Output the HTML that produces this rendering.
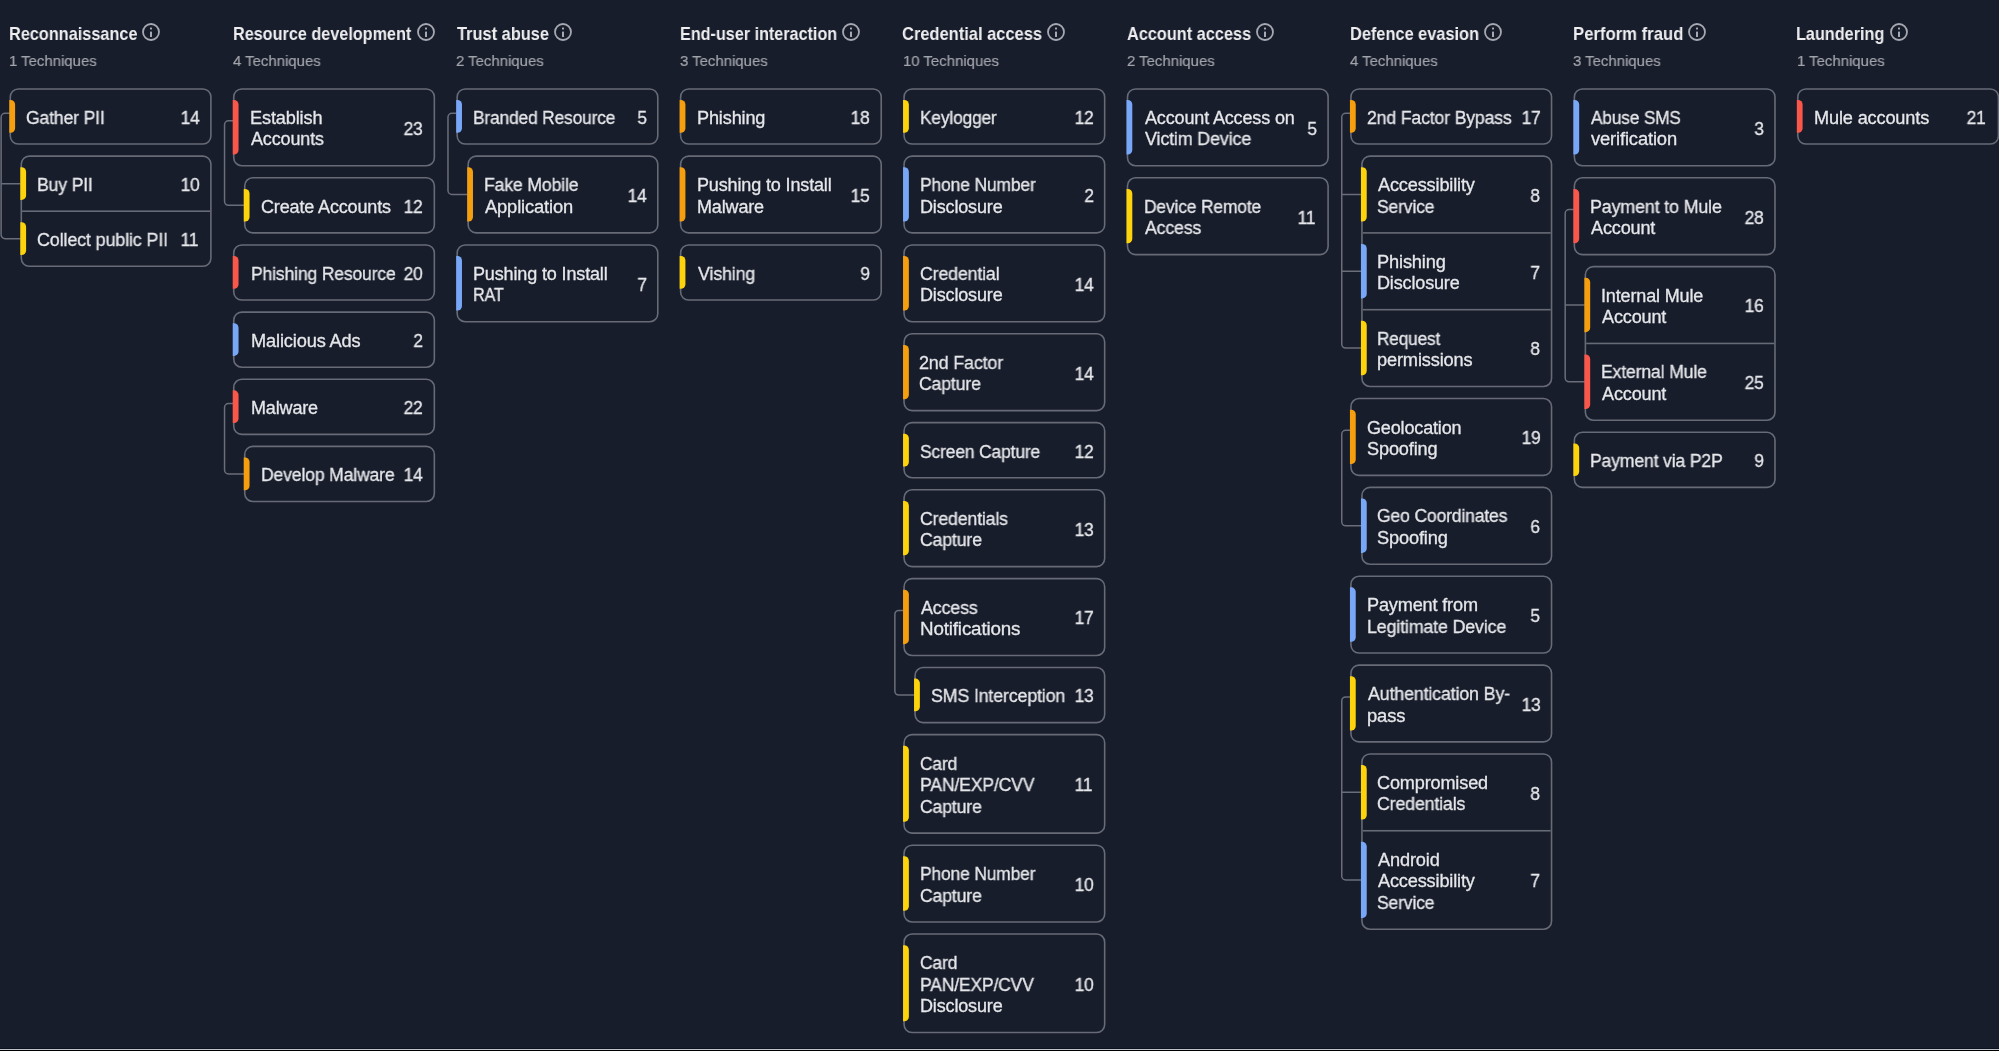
<!DOCTYPE html><html><head><meta charset="utf-8"><style>
html,body{margin:0;padding:0;}body{width:1999px;height:1051px;background:#181d2b;overflow:hidden;position:relative;font-family:"Liberation Sans",sans-serif;}
svg.m{position:absolute;left:0;top:0;}
.t,.n{position:absolute;font-size:18px;color:#e6e7ea;white-space:nowrap;font-variant-ligatures:none;letter-spacing:-0.15px;transform:scaleX(0.97);-webkit-text-stroke:0.3px #e6e7ea;}
.t{transform-origin:0 0;}.n{transform-origin:100% 0;}.t,.n,.h,.s{will-change:transform;}
.t,.n,.h,.s{line-height:1;}
.h{position:absolute;font-weight:bold;font-size:18.2px;color:#eeeef0;white-space:nowrap;transform:scaleX(0.91);transform-origin:0 0;}
svg.i{position:absolute;}
.s{position:absolute;font-size:15.4px;color:#a2a4ab;white-space:nowrap;transform:scaleX(0.97);transform-origin:0 0;-webkit-text-stroke:0.2px #a2a4ab;}
.bl{position:absolute;left:0;width:1999px;}
</style></head><body>
<svg class="m" width="1999" height="1051" viewBox="0 0 1999 1051">
<path d="M10.3,113.25 H5.1 A4,4 0 0 0 1.1,117.25 V234.75 A4,4 0 0 0 5.1,238.75 H21.3 M1.1,183.65 H21.3" fill="none" stroke="#6a6e7a" stroke-width="1.5"/>
<path d="M233.74,120.75 H228.54 A4,4 0 0 0 224.54,124.75 V201.35 A4,4 0 0 0 228.54,205.35 H244.74" fill="none" stroke="#6a6e7a" stroke-width="1.5"/>
<path d="M233.74,403.55 H228.54 A4,4 0 0 0 224.54,407.55 V469.95 A4,4 0 0 0 228.54,473.95 H244.74" fill="none" stroke="#6a6e7a" stroke-width="1.5"/>
<path d="M457.18,113.25 H451.98 A4,4 0 0 0 447.98,117.25 V190.5 A4,4 0 0 0 451.98,194.5 H468.18" fill="none" stroke="#6a6e7a" stroke-width="1.5"/>
<path d="M904.06,610.45 H898.86 A4,4 0 0 0 894.86,614.45 V691.05 A4,4 0 0 0 898.86,695.05 H915.06" fill="none" stroke="#6a6e7a" stroke-width="1.5"/>
<path d="M1350.94,113.25 H1345.74 A4,4 0 0 0 1341.74,117.25 V344.1 A4,4 0 0 0 1345.74,348.1 H1361.94 M1341.74,194.5 H1361.94 M1341.74,271.3 H1361.94" fill="none" stroke="#6a6e7a" stroke-width="1.5"/>
<path d="M1350.94,430.35 H1345.74 A4,4 0 0 0 1341.74,434.35 V521.8 A4,4 0 0 0 1345.74,525.8 H1361.94" fill="none" stroke="#6a6e7a" stroke-width="1.5"/>
<path d="M1350.94,696.9 H1345.74 A4,4 0 0 0 1341.74,700.9 V876 A4,4 0 0 0 1345.74,880 H1361.94 M1341.74,792.35 H1361.94" fill="none" stroke="#6a6e7a" stroke-width="1.5"/>
<path d="M1574.38,209.6 H1569.18 A4,4 0 0 0 1565.18,213.6 V377.85 A4,4 0 0 0 1569.18,381.85 H1585.38 M1565.18,305.05 H1585.38" fill="none" stroke="#6a6e7a" stroke-width="1.5"/>
<rect x="10.3" y="88.95" width="200.6" height="55.1" rx="8" fill="#181d2b" stroke="#676b77" stroke-width="1.6"/>
<path d="M9.3,100.05 H10.6 A4.5,4.5 0 0 1 15.1,104.55 V128.25 A4.5,4.5 0 0 1 10.6,132.75 H9.3 Z" fill="#f59f0f"/>
<rect x="21.3" y="156.1" width="189.6" height="110.2" rx="8" fill="#181d2b" stroke="#676b77" stroke-width="1.6"/>
<path d="M20.3,167.2 H21.6 A4.5,4.5 0 0 1 26.1,171.7 V195.4 A4.5,4.5 0 0 1 21.6,199.9 H20.3 Z" fill="#fdd40c"/>
<rect x="22.1" y="210.4" width="188" height="1.6" fill="#676b77"/>
<path d="M20.3,222.3 H21.6 A4.5,4.5 0 0 1 26.1,226.8 V250.5 A4.5,4.5 0 0 1 21.6,255 H20.3 Z" fill="#fdd40c"/>
<rect x="233.74" y="88.95" width="200.6" height="76.8" rx="8" fill="#181d2b" stroke="#676b77" stroke-width="1.6"/>
<path d="M232.74,100.05 H234.04 A4.5,4.5 0 0 1 238.54,104.55 V149.95 A4.5,4.5 0 0 1 234.04,154.45 H232.74 Z" fill="#f9574a"/>
<rect x="244.74" y="177.8" width="189.6" height="55.1" rx="8" fill="#181d2b" stroke="#676b77" stroke-width="1.6"/>
<path d="M243.74,188.9 H245.04 A4.5,4.5 0 0 1 249.54,193.4 V217.1 A4.5,4.5 0 0 1 245.04,221.6 H243.74 Z" fill="#fdd40c"/>
<rect x="233.74" y="244.95" width="200.6" height="55.1" rx="8" fill="#181d2b" stroke="#676b77" stroke-width="1.6"/>
<path d="M232.74,256.05 H234.04 A4.5,4.5 0 0 1 238.54,260.55 V284.25 A4.5,4.5 0 0 1 234.04,288.75 H232.74 Z" fill="#f9574a"/>
<rect x="233.74" y="312.1" width="200.6" height="55.1" rx="8" fill="#181d2b" stroke="#676b77" stroke-width="1.6"/>
<path d="M232.74,323.2 H234.04 A4.5,4.5 0 0 1 238.54,327.7 V351.4 A4.5,4.5 0 0 1 234.04,355.9 H232.74 Z" fill="#78a7f8"/>
<rect x="233.74" y="379.25" width="200.6" height="55.1" rx="8" fill="#181d2b" stroke="#676b77" stroke-width="1.6"/>
<path d="M232.74,390.35 H234.04 A4.5,4.5 0 0 1 238.54,394.85 V418.55 A4.5,4.5 0 0 1 234.04,423.05 H232.74 Z" fill="#f9574a"/>
<rect x="244.74" y="446.4" width="189.6" height="55.1" rx="8" fill="#181d2b" stroke="#676b77" stroke-width="1.6"/>
<path d="M243.74,457.5 H245.04 A4.5,4.5 0 0 1 249.54,462 V485.7 A4.5,4.5 0 0 1 245.04,490.2 H243.74 Z" fill="#f59f0f"/>
<rect x="457.18" y="88.95" width="200.6" height="55.1" rx="8" fill="#181d2b" stroke="#676b77" stroke-width="1.6"/>
<path d="M456.18,100.05 H457.48 A4.5,4.5 0 0 1 461.98,104.55 V128.25 A4.5,4.5 0 0 1 457.48,132.75 H456.18 Z" fill="#78a7f8"/>
<rect x="468.18" y="156.1" width="189.6" height="76.8" rx="8" fill="#181d2b" stroke="#676b77" stroke-width="1.6"/>
<path d="M467.18,167.2 H468.48 A4.5,4.5 0 0 1 472.98,171.7 V217.1 A4.5,4.5 0 0 1 468.48,221.6 H467.18 Z" fill="#f59f0f"/>
<rect x="457.18" y="244.95" width="200.6" height="76.8" rx="8" fill="#181d2b" stroke="#676b77" stroke-width="1.6"/>
<path d="M456.18,256.05 H457.48 A4.5,4.5 0 0 1 461.98,260.55 V305.95 A4.5,4.5 0 0 1 457.48,310.45 H456.18 Z" fill="#78a7f8"/>
<rect x="680.62" y="88.95" width="200.6" height="55.1" rx="8" fill="#181d2b" stroke="#676b77" stroke-width="1.6"/>
<path d="M679.62,100.05 H680.92 A4.5,4.5 0 0 1 685.42,104.55 V128.25 A4.5,4.5 0 0 1 680.92,132.75 H679.62 Z" fill="#f59f0f"/>
<rect x="680.62" y="156.1" width="200.6" height="76.8" rx="8" fill="#181d2b" stroke="#676b77" stroke-width="1.6"/>
<path d="M679.62,167.2 H680.92 A4.5,4.5 0 0 1 685.42,171.7 V217.1 A4.5,4.5 0 0 1 680.92,221.6 H679.62 Z" fill="#f59f0f"/>
<rect x="680.62" y="244.95" width="200.6" height="55.1" rx="8" fill="#181d2b" stroke="#676b77" stroke-width="1.6"/>
<path d="M679.62,256.05 H680.92 A4.5,4.5 0 0 1 685.42,260.55 V284.25 A4.5,4.5 0 0 1 680.92,288.75 H679.62 Z" fill="#fdd40c"/>
<rect x="904.06" y="88.95" width="200.6" height="55.1" rx="8" fill="#181d2b" stroke="#676b77" stroke-width="1.6"/>
<path d="M903.06,100.05 H904.36 A4.5,4.5 0 0 1 908.86,104.55 V128.25 A4.5,4.5 0 0 1 904.36,132.75 H903.06 Z" fill="#fdd40c"/>
<rect x="904.06" y="156.1" width="200.6" height="76.8" rx="8" fill="#181d2b" stroke="#676b77" stroke-width="1.6"/>
<path d="M903.06,167.2 H904.36 A4.5,4.5 0 0 1 908.86,171.7 V217.1 A4.5,4.5 0 0 1 904.36,221.6 H903.06 Z" fill="#78a7f8"/>
<rect x="904.06" y="244.95" width="200.6" height="76.8" rx="8" fill="#181d2b" stroke="#676b77" stroke-width="1.6"/>
<path d="M903.06,256.05 H904.36 A4.5,4.5 0 0 1 908.86,260.55 V305.95 A4.5,4.5 0 0 1 904.36,310.45 H903.06 Z" fill="#f59f0f"/>
<rect x="904.06" y="333.8" width="200.6" height="76.8" rx="8" fill="#181d2b" stroke="#676b77" stroke-width="1.6"/>
<path d="M903.06,344.9 H904.36 A4.5,4.5 0 0 1 908.86,349.4 V394.8 A4.5,4.5 0 0 1 904.36,399.3 H903.06 Z" fill="#f59f0f"/>
<rect x="904.06" y="422.65" width="200.6" height="55.1" rx="8" fill="#181d2b" stroke="#676b77" stroke-width="1.6"/>
<path d="M903.06,433.75 H904.36 A4.5,4.5 0 0 1 908.86,438.25 V461.95 A4.5,4.5 0 0 1 904.36,466.45 H903.06 Z" fill="#fdd40c"/>
<rect x="904.06" y="489.8" width="200.6" height="76.8" rx="8" fill="#181d2b" stroke="#676b77" stroke-width="1.6"/>
<path d="M903.06,500.9 H904.36 A4.5,4.5 0 0 1 908.86,505.4 V550.8 A4.5,4.5 0 0 1 904.36,555.3 H903.06 Z" fill="#fdd40c"/>
<rect x="904.06" y="578.65" width="200.6" height="76.8" rx="8" fill="#181d2b" stroke="#676b77" stroke-width="1.6"/>
<path d="M903.06,589.75 H904.36 A4.5,4.5 0 0 1 908.86,594.25 V639.65 A4.5,4.5 0 0 1 904.36,644.15 H903.06 Z" fill="#f59f0f"/>
<rect x="915.06" y="667.5" width="189.6" height="55.1" rx="8" fill="#181d2b" stroke="#676b77" stroke-width="1.6"/>
<path d="M914.06,678.6 H915.36 A4.5,4.5 0 0 1 919.86,683.1 V706.8 A4.5,4.5 0 0 1 915.36,711.3 H914.06 Z" fill="#fdd40c"/>
<rect x="904.06" y="734.65" width="200.6" height="98.5" rx="8" fill="#181d2b" stroke="#676b77" stroke-width="1.6"/>
<path d="M903.06,745.75 H904.36 A4.5,4.5 0 0 1 908.86,750.25 V817.35 A4.5,4.5 0 0 1 904.36,821.85 H903.06 Z" fill="#fdd40c"/>
<rect x="904.06" y="845.2" width="200.6" height="76.8" rx="8" fill="#181d2b" stroke="#676b77" stroke-width="1.6"/>
<path d="M903.06,856.3 H904.36 A4.5,4.5 0 0 1 908.86,860.8 V906.2 A4.5,4.5 0 0 1 904.36,910.7 H903.06 Z" fill="#fdd40c"/>
<rect x="904.06" y="934.05" width="200.6" height="98.5" rx="8" fill="#181d2b" stroke="#676b77" stroke-width="1.6"/>
<path d="M903.06,945.15 H904.36 A4.5,4.5 0 0 1 908.86,949.65 V1016.75 A4.5,4.5 0 0 1 904.36,1021.25 H903.06 Z" fill="#fdd40c"/>
<rect x="1127.5" y="88.95" width="200.6" height="76.8" rx="8" fill="#181d2b" stroke="#676b77" stroke-width="1.6"/>
<path d="M1126.5,100.05 H1127.8 A4.5,4.5 0 0 1 1132.3,104.55 V149.95 A4.5,4.5 0 0 1 1127.8,154.45 H1126.5 Z" fill="#78a7f8"/>
<rect x="1127.5" y="177.8" width="200.6" height="76.8" rx="8" fill="#181d2b" stroke="#676b77" stroke-width="1.6"/>
<path d="M1126.5,188.9 H1127.8 A4.5,4.5 0 0 1 1132.3,193.4 V238.8 A4.5,4.5 0 0 1 1127.8,243.3 H1126.5 Z" fill="#fdd40c"/>
<rect x="1350.94" y="88.95" width="200.6" height="55.1" rx="8" fill="#181d2b" stroke="#676b77" stroke-width="1.6"/>
<path d="M1349.94,100.05 H1351.24 A4.5,4.5 0 0 1 1355.74,104.55 V128.25 A4.5,4.5 0 0 1 1351.24,132.75 H1349.94 Z" fill="#f59f0f"/>
<rect x="1361.94" y="156.1" width="189.6" height="230.4" rx="8" fill="#181d2b" stroke="#676b77" stroke-width="1.6"/>
<path d="M1360.94,167.2 H1362.24 A4.5,4.5 0 0 1 1366.74,171.7 V217.1 A4.5,4.5 0 0 1 1362.24,221.6 H1360.94 Z" fill="#fdd40c"/>
<rect x="1362.74" y="232.1" width="188" height="1.6" fill="#676b77"/>
<path d="M1360.94,244 H1362.24 A4.5,4.5 0 0 1 1366.74,248.5 V293.9 A4.5,4.5 0 0 1 1362.24,298.4 H1360.94 Z" fill="#78a7f8"/>
<rect x="1362.74" y="308.9" width="188" height="1.6" fill="#676b77"/>
<path d="M1360.94,320.8 H1362.24 A4.5,4.5 0 0 1 1366.74,325.3 V370.7 A4.5,4.5 0 0 1 1362.24,375.2 H1360.94 Z" fill="#fdd40c"/>
<rect x="1350.94" y="398.55" width="200.6" height="76.8" rx="8" fill="#181d2b" stroke="#676b77" stroke-width="1.6"/>
<path d="M1349.94,409.65 H1351.24 A4.5,4.5 0 0 1 1355.74,414.15 V459.55 A4.5,4.5 0 0 1 1351.24,464.05 H1349.94 Z" fill="#f59f0f"/>
<rect x="1361.94" y="487.4" width="189.6" height="76.8" rx="8" fill="#181d2b" stroke="#676b77" stroke-width="1.6"/>
<path d="M1360.94,498.5 H1362.24 A4.5,4.5 0 0 1 1366.74,503 V548.4 A4.5,4.5 0 0 1 1362.24,552.9 H1360.94 Z" fill="#78a7f8"/>
<rect x="1350.94" y="576.25" width="200.6" height="76.8" rx="8" fill="#181d2b" stroke="#676b77" stroke-width="1.6"/>
<path d="M1349.94,587.35 H1351.24 A4.5,4.5 0 0 1 1355.74,591.85 V637.25 A4.5,4.5 0 0 1 1351.24,641.75 H1349.94 Z" fill="#78a7f8"/>
<rect x="1350.94" y="665.1" width="200.6" height="76.8" rx="8" fill="#181d2b" stroke="#676b77" stroke-width="1.6"/>
<path d="M1349.94,676.2 H1351.24 A4.5,4.5 0 0 1 1355.74,680.7 V726.1 A4.5,4.5 0 0 1 1351.24,730.6 H1349.94 Z" fill="#fdd40c"/>
<rect x="1361.94" y="753.95" width="189.6" height="175.3" rx="8" fill="#181d2b" stroke="#676b77" stroke-width="1.6"/>
<path d="M1360.94,765.05 H1362.24 A4.5,4.5 0 0 1 1366.74,769.55 V814.95 A4.5,4.5 0 0 1 1362.24,819.45 H1360.94 Z" fill="#fdd40c"/>
<rect x="1362.74" y="829.95" width="188" height="1.6" fill="#676b77"/>
<path d="M1360.94,841.85 H1362.24 A4.5,4.5 0 0 1 1366.74,846.35 V913.45 A4.5,4.5 0 0 1 1362.24,917.95 H1360.94 Z" fill="#78a7f8"/>
<rect x="1574.38" y="88.95" width="200.6" height="76.8" rx="8" fill="#181d2b" stroke="#676b77" stroke-width="1.6"/>
<path d="M1573.38,100.05 H1574.68 A4.5,4.5 0 0 1 1579.18,104.55 V149.95 A4.5,4.5 0 0 1 1574.68,154.45 H1573.38 Z" fill="#78a7f8"/>
<rect x="1574.38" y="177.8" width="200.6" height="76.8" rx="8" fill="#181d2b" stroke="#676b77" stroke-width="1.6"/>
<path d="M1573.38,188.9 H1574.68 A4.5,4.5 0 0 1 1579.18,193.4 V238.8 A4.5,4.5 0 0 1 1574.68,243.3 H1573.38 Z" fill="#f9574a"/>
<rect x="1585.38" y="266.65" width="189.6" height="153.6" rx="8" fill="#181d2b" stroke="#676b77" stroke-width="1.6"/>
<path d="M1584.38,277.75 H1585.68 A4.5,4.5 0 0 1 1590.18,282.25 V327.65 A4.5,4.5 0 0 1 1585.68,332.15 H1584.38 Z" fill="#f59f0f"/>
<rect x="1586.18" y="342.65" width="188" height="1.6" fill="#676b77"/>
<path d="M1584.38,354.55 H1585.68 A4.5,4.5 0 0 1 1590.18,359.05 V404.45 A4.5,4.5 0 0 1 1585.68,408.95 H1584.38 Z" fill="#f9574a"/>
<rect x="1574.38" y="432.3" width="200.6" height="55.1" rx="8" fill="#181d2b" stroke="#676b77" stroke-width="1.6"/>
<path d="M1573.38,443.4 H1574.68 A4.5,4.5 0 0 1 1579.18,447.9 V471.6 A4.5,4.5 0 0 1 1574.68,476.1 H1573.38 Z" fill="#fdd40c"/>
<rect x="1797.82" y="88.95" width="200.6" height="55.1" rx="8" fill="#181d2b" stroke="#676b77" stroke-width="1.6"/>
<path d="M1796.82,100.05 H1798.12 A4.5,4.5 0 0 1 1802.62,104.55 V128.25 A4.5,4.5 0 0 1 1798.12,132.75 H1796.82 Z" fill="#f9574a"/>
</svg>
<div class="h" style="left:9px;top:24.79px;transform:scaleX(0.8951)">Reconnaissance</div>
<svg class="i" style="left:141.4px;top:22.1px" width="20" height="20" viewBox="0 0 20 20"><circle cx="10" cy="10" r="8" fill="none" stroke="#a6a9b2" stroke-width="1.8"/><rect x="9" y="5.4" width="2" height="2.1" rx="0.5" fill="#a6a9b2"/><rect x="9" y="9.6" width="2" height="5.4" fill="#a6a9b2"/></svg>
<div class="s" style="left:9.3px;top:52.86px">1 Techniques</div>
<div class="t" style="left:26.1px;top:108.86px;transform:scaleX(0.9764)">Gather PII</div>
<div class="n" style="right:1799.3px;top:108.86px">14</div>
<div class="t" style="left:36.9px;top:176.01px;transform:scaleX(0.9786)">Buy PII</div>
<div class="n" style="right:1799.3px;top:176.01px">10</div>
<div class="t" style="left:36.9px;top:231.11px;transform:scaleX(0.9967)">Collect public PII</div>
<div class="n" style="right:1800.7px;top:231.11px">11</div>
<div class="h" style="left:232.54px;top:24.79px;transform:scaleX(0.8910)">Resource development</div>
<svg class="i" style="left:416px;top:22.1px" width="20" height="20" viewBox="0 0 20 20"><circle cx="10" cy="10" r="8" fill="none" stroke="#a6a9b2" stroke-width="1.8"/><rect x="9" y="5.4" width="2" height="2.1" rx="0.5" fill="#a6a9b2"/><rect x="9" y="9.6" width="2" height="5.4" fill="#a6a9b2"/></svg>
<div class="s" style="left:232.74px;top:52.86px">4 Techniques</div>
<div class="t" style="left:250.14px;top:108.99px;transform:scaleX(1.0099)">Establish</div>
<div class="t" style="left:251.14px;top:130.44px;transform:scaleX(0.9987)">Accounts</div>
<div class="n" style="right:1575.86px;top:119.71px">23</div>
<div class="t" style="left:260.54px;top:197.71px;transform:scaleX(1.0008)">Create Accounts</div>
<div class="n" style="right:1575.86px;top:197.71px">12</div>
<div class="t" style="left:250.54px;top:264.86px;transform:scaleX(0.9733)">Phishing Resource</div>
<div class="n" style="right:1575.86px;top:264.86px">20</div>
<div class="t" style="left:250.54px;top:332.01px;transform:scaleX(1.0124)">Malicious Ads</div>
<div class="n" style="right:1575.86px;top:332.01px">2</div>
<div class="t" style="left:250.54px;top:399.16px;transform:scaleX(0.9986)">Malware</div>
<div class="n" style="right:1575.86px;top:399.16px">22</div>
<div class="t" style="left:260.84px;top:466.31px;transform:scaleX(0.9757)">Develop Malware</div>
<div class="n" style="right:1575.86px;top:466.31px">14</div>
<div class="h" style="left:456.88px;top:24.79px;transform:scaleX(0.9011)">Trust abuse</div>
<svg class="i" style="left:552.6px;top:22.1px" width="20" height="20" viewBox="0 0 20 20"><circle cx="10" cy="10" r="8" fill="none" stroke="#a6a9b2" stroke-width="1.8"/><rect x="9" y="5.4" width="2" height="2.1" rx="0.5" fill="#a6a9b2"/><rect x="9" y="9.6" width="2" height="5.4" fill="#a6a9b2"/></svg>
<div class="s" style="left:456.18px;top:52.86px">2 Techniques</div>
<div class="t" style="left:473.28px;top:108.86px;transform:scaleX(0.9630)">Branded Resource</div>
<div class="n" style="right:1352.42px;top:108.86px">5</div>
<div class="t" style="left:484.08px;top:176.14px;transform:scaleX(0.9798)">Fake Mobile</div>
<div class="t" style="left:485.08px;top:197.59px;transform:scaleX(1.0181)">Application</div>
<div class="n" style="right:1352.42px;top:186.86px">14</div>
<div class="t" style="left:473.18px;top:264.99px;transform:scaleX(1.0014)">Pushing to Install</div>
<div class="t" style="left:473.18px;top:286.44px;transform:scaleX(0.9007)">RAT</div>
<div class="n" style="right:1352.42px;top:275.71px">7</div>
<div class="h" style="left:679.82px;top:24.79px;transform:scaleX(0.8885)">End-user interaction</div>
<svg class="i" style="left:840.9px;top:22.1px" width="20" height="20" viewBox="0 0 20 20"><circle cx="10" cy="10" r="8" fill="none" stroke="#a6a9b2" stroke-width="1.8"/><rect x="9" y="5.4" width="2" height="2.1" rx="0.5" fill="#a6a9b2"/><rect x="9" y="9.6" width="2" height="5.4" fill="#a6a9b2"/></svg>
<div class="s" style="left:679.62px;top:52.86px">3 Techniques</div>
<div class="t" style="left:697.42px;top:108.86px;transform:scaleX(1.0062)">Phishing</div>
<div class="n" style="right:1128.98px;top:108.86px">18</div>
<div class="t" style="left:697.42px;top:176.14px;transform:scaleX(1.0014)">Pushing to Install</div>
<div class="t" style="left:697.42px;top:197.59px;transform:scaleX(0.9956)">Malware</div>
<div class="n" style="right:1128.98px;top:186.86px">15</div>
<div class="t" style="left:697.82px;top:264.86px;transform:scaleX(0.9903)">Vishing</div>
<div class="n" style="right:1128.98px;top:264.86px">9</div>
<div class="h" style="left:902.36px;top:24.79px;transform:scaleX(0.9056)">Credential access</div>
<svg class="i" style="left:1046.2px;top:22.1px" width="20" height="20" viewBox="0 0 20 20"><circle cx="10" cy="10" r="8" fill="none" stroke="#a6a9b2" stroke-width="1.8"/><rect x="9" y="5.4" width="2" height="2.1" rx="0.5" fill="#a6a9b2"/><rect x="9" y="9.6" width="2" height="5.4" fill="#a6a9b2"/></svg>
<div class="s" style="left:903.06px;top:52.86px">10 Techniques</div>
<div class="t" style="left:920.06px;top:108.86px;transform:scaleX(0.9612)">Keylogger</div>
<div class="n" style="right:905.54px;top:108.86px">12</div>
<div class="t" style="left:920.06px;top:176.14px;transform:scaleX(0.9696)">Phone Number</div>
<div class="t" style="left:920.06px;top:197.59px;transform:scaleX(0.9971)">Disclosure</div>
<div class="n" style="right:905.54px;top:186.86px">2</div>
<div class="t" style="left:919.96px;top:264.99px;transform:scaleX(0.9865)">Credential</div>
<div class="t" style="left:919.96px;top:286.44px;transform:scaleX(0.9983)">Disclosure</div>
<div class="n" style="right:905.54px;top:275.71px">14</div>
<div class="t" style="left:919.46px;top:353.84px;transform:scaleX(0.9941)">2nd Factor</div>
<div class="t" style="left:919.46px;top:375.29px;transform:scaleX(0.9794)">Capture</div>
<div class="n" style="right:905.54px;top:364.56px">14</div>
<div class="t" style="left:919.56px;top:442.56px;transform:scaleX(0.9689)">Screen Capture</div>
<div class="n" style="right:905.54px;top:442.56px">12</div>
<div class="t" style="left:919.56px;top:509.84px;transform:scaleX(0.9826)">Credentials</div>
<div class="t" style="left:919.56px;top:531.29px;transform:scaleX(0.9810)">Capture</div>
<div class="n" style="right:905.54px;top:520.56px">13</div>
<div class="t" style="left:920.56px;top:598.69px;transform:scaleX(0.9907)">Access</div>
<div class="t" style="left:919.56px;top:620.14px;transform:scaleX(1.0441)">Notifications</div>
<div class="n" style="right:905.54px;top:609.41px">17</div>
<div class="t" style="left:930.66px;top:687.41px;transform:scaleX(0.9885)">SMS Interception</div>
<div class="n" style="right:905.54px;top:687.41px">13</div>
<div class="t" style="left:919.56px;top:754.81px;transform:scaleX(0.9659)">Card</div>
<div class="t" style="left:919.56px;top:776.26px;transform:scaleX(0.9773)">PAN/EXP/CVV</div>
<div class="t" style="left:919.66px;top:797.71px;transform:scaleX(0.9778)">Capture</div>
<div class="n" style="right:906.94px;top:776.26px">11</div>
<div class="t" style="left:919.66px;top:865.24px;transform:scaleX(0.9671)">Phone Number</div>
<div class="t" style="left:919.66px;top:886.69px;transform:scaleX(0.9778)">Capture</div>
<div class="n" style="right:905.54px;top:875.96px">10</div>
<div class="t" style="left:919.66px;top:954.21px;transform:scaleX(0.9713)">Card</div>
<div class="t" style="left:919.66px;top:975.66px;transform:scaleX(0.9713)">PAN/EXP/CVV</div>
<div class="t" style="left:919.66px;top:997.11px;transform:scaleX(0.9983)">Disclosure</div>
<div class="n" style="right:905.54px;top:975.66px">10</div>
<div class="h" style="left:1126.5px;top:24.79px;transform:scaleX(0.8957)">Account access</div>
<svg class="i" style="left:1255px;top:22.1px" width="20" height="20" viewBox="0 0 20 20"><circle cx="10" cy="10" r="8" fill="none" stroke="#a6a9b2" stroke-width="1.8"/><rect x="9" y="5.4" width="2" height="2.1" rx="0.5" fill="#a6a9b2"/><rect x="9" y="9.6" width="2" height="5.4" fill="#a6a9b2"/></svg>
<div class="s" style="left:1126.5px;top:52.86px">2 Techniques</div>
<div class="t" style="left:1144.8px;top:108.99px;transform:scaleX(1.0007)">Account Access on</div>
<div class="t" style="left:1144.8px;top:130.44px;transform:scaleX(0.9939)">Victim Device</div>
<div class="n" style="right:682.1px;top:119.71px">5</div>
<div class="t" style="left:1143.8px;top:197.84px;transform:scaleX(0.9662)">Device Remote</div>
<div class="t" style="left:1144.8px;top:219.29px;transform:scaleX(0.9836)">Access</div>
<div class="n" style="right:683.5px;top:208.56px">11</div>
<div class="h" style="left:1349.64px;top:24.79px;transform:scaleX(0.8987)">Defence evasion</div>
<svg class="i" style="left:1482.9px;top:22.1px" width="20" height="20" viewBox="0 0 20 20"><circle cx="10" cy="10" r="8" fill="none" stroke="#a6a9b2" stroke-width="1.8"/><rect x="9" y="5.4" width="2" height="2.1" rx="0.5" fill="#a6a9b2"/><rect x="9" y="9.6" width="2" height="5.4" fill="#a6a9b2"/></svg>
<div class="s" style="left:1349.94px;top:52.86px">4 Techniques</div>
<div class="t" style="left:1366.64px;top:108.86px;transform:scaleX(0.9802)">2nd Factor Bypass</div>
<div class="n" style="right:458.66px;top:108.86px">17</div>
<div class="t" style="left:1378.24px;top:176.14px;transform:scaleX(1.0074)">Accessibility</div>
<div class="t" style="left:1377.24px;top:197.59px;transform:scaleX(0.9730)">Service</div>
<div class="n" style="right:458.66px;top:186.86px">8</div>
<div class="t" style="left:1377.24px;top:252.94px;transform:scaleX(1.0123)">Phishing</div>
<div class="t" style="left:1377.24px;top:274.39px;transform:scaleX(1.0008)">Disclosure</div>
<div class="n" style="right:458.66px;top:263.66px">7</div>
<div class="t" style="left:1377.24px;top:329.74px;transform:scaleX(0.9561)">Request</div>
<div class="t" style="left:1377.24px;top:351.19px;transform:scaleX(1.0119)">permissions</div>
<div class="n" style="right:458.66px;top:340.46px">8</div>
<div class="t" style="left:1366.64px;top:418.59px;transform:scaleX(1.0004)">Geolocation</div>
<div class="t" style="left:1366.64px;top:440.04px;transform:scaleX(1.0081)">Spoofing</div>
<div class="n" style="right:458.66px;top:429.31px">19</div>
<div class="t" style="left:1377.24px;top:507.44px;transform:scaleX(0.9735)">Geo Coordinates</div>
<div class="t" style="left:1377.24px;top:528.89px;transform:scaleX(1.0125)">Spoofing</div>
<div class="n" style="right:458.66px;top:518.16px">6</div>
<div class="t" style="left:1366.94px;top:596.29px;transform:scaleX(1.0055)">Payment from</div>
<div class="t" style="left:1366.94px;top:617.74px;transform:scaleX(0.9900)">Legitimate Device</div>
<div class="n" style="right:458.66px;top:607.01px">5</div>
<div class="t" style="left:1367.64px;top:685.14px;transform:scaleX(0.9901)">Authentication By-</div>
<div class="t" style="left:1366.64px;top:706.59px;transform:scaleX(1.0212)">pass</div>
<div class="n" style="right:458.66px;top:695.86px">13</div>
<div class="t" style="left:1377.24px;top:773.99px;transform:scaleX(1.0052)">Compromised</div>
<div class="t" style="left:1377.24px;top:795.44px;transform:scaleX(0.9871)">Credentials</div>
<div class="n" style="right:458.66px;top:784.71px">8</div>
<div class="t" style="left:1378.24px;top:850.91px;transform:scaleX(1.0099)">Android</div>
<div class="t" style="left:1378.24px;top:872.36px;transform:scaleX(1.0074)">Accessibility</div>
<div class="t" style="left:1377.24px;top:893.81px;transform:scaleX(0.9730)">Service</div>
<div class="n" style="right:458.66px;top:872.36px">7</div>
<div class="h" style="left:1573.38px;top:24.79px;transform:scaleX(0.9177)">Perform fraud</div>
<svg class="i" style="left:1687px;top:22.1px" width="20" height="20" viewBox="0 0 20 20"><circle cx="10" cy="10" r="8" fill="none" stroke="#a6a9b2" stroke-width="1.8"/><rect x="9" y="5.4" width="2" height="2.1" rx="0.5" fill="#a6a9b2"/><rect x="9" y="9.6" width="2" height="5.4" fill="#a6a9b2"/></svg>
<div class="s" style="left:1573.38px;top:52.86px">3 Techniques</div>
<div class="t" style="left:1591.28px;top:108.99px;transform:scaleX(0.9584)">Abuse SMS</div>
<div class="t" style="left:1591.28px;top:130.44px;transform:scaleX(1.0204)">verification</div>
<div class="n" style="right:235.22px;top:119.71px">3</div>
<div class="t" style="left:1590.28px;top:197.84px;transform:scaleX(0.9918)">Payment to Mule</div>
<div class="t" style="left:1591.28px;top:219.29px;transform:scaleX(1.0027)">Account</div>
<div class="n" style="right:235.22px;top:208.56px">28</div>
<div class="t" style="left:1601.28px;top:286.69px;transform:scaleX(0.9991)">Internal Mule</div>
<div class="t" style="left:1602.28px;top:308.14px;transform:scaleX(1.0027)">Account</div>
<div class="n" style="right:235.22px;top:297.41px">16</div>
<div class="t" style="left:1601.28px;top:363.49px;transform:scaleX(0.9778)">External Mule</div>
<div class="t" style="left:1602.28px;top:384.94px;transform:scaleX(1.0027)">Account</div>
<div class="n" style="right:235.22px;top:374.21px">25</div>
<div class="t" style="left:1590.28px;top:452.21px;transform:scaleX(0.9765)">Payment via P2P</div>
<div class="n" style="right:235.22px;top:452.21px">9</div>
<div class="h" style="left:1796.32px;top:24.79px;transform:scaleX(0.8916)">Laundering</div>
<svg class="i" style="left:1888.5px;top:22.1px" width="20" height="20" viewBox="0 0 20 20"><circle cx="10" cy="10" r="8" fill="none" stroke="#a6a9b2" stroke-width="1.8"/><rect x="9" y="5.4" width="2" height="2.1" rx="0.5" fill="#a6a9b2"/><rect x="9" y="9.6" width="2" height="5.4" fill="#a6a9b2"/></svg>
<div class="s" style="left:1796.82px;top:52.86px">1 Techniques</div>
<div class="t" style="left:1814.22px;top:108.86px;transform:scaleX(1.0084)">Mule accounts</div>
<div class="n" style="right:13.18px;top:108.86px">21</div>
<div class="bl" style="top:1048px;height:1px;background:#0d1222"></div>
<div class="bl" style="top:1049px;height:1px;background:#c2c3c7"></div>
<div class="bl" style="top:1050px;height:1px;background:#000"></div>
</body></html>
